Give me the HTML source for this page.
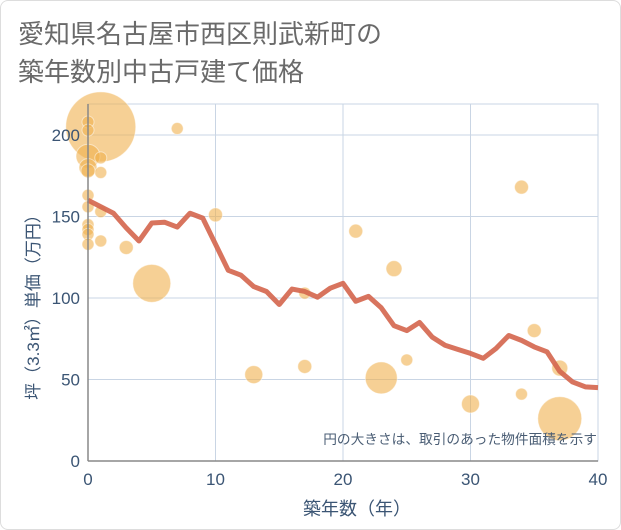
<!DOCTYPE html>
<html><head><meta charset="utf-8">
<style>
html,body{margin:0;padding:0;background:#fff;}
#wrap{position:relative;width:619px;height:528px;border:1px solid #ddd;border-radius:8px;overflow:hidden;background:#fff;}
svg{position:absolute;left:0;top:0;font-family:"Liberation Sans","Noto Sans CJK JP",sans-serif;}
</style></head>
<body>
<div id="wrap">
<svg id="chart" width="621" height="530">
<text x="17" y="42" font-size="26" fill="#6a6a6a">愛知県名古屋市西区則武新町の</text>
<text x="17" y="80" font-size="26" fill="#6a6a6a">築年数別中古戸建て価格</text>
<g id="grid"></g>
<g id="bubbles"></g>
<g id="line"></g>
<g id="axes"></g>
<text x="596" y="443" font-size="13.7" fill="#4a5d74" text-anchor="end">円の大きさは、取引のあった物件面積を示す</text>
<text x="356" y="514" font-size="18" fill="#3b5574" text-anchor="middle">築年数（年）</text>
<text transform="translate(38,302) rotate(-90)" font-size="17" fill="#3b5574" text-anchor="middle">坪（3.3㎡）単価（万円）</text>
</svg>
</div>
<script>
const xTicks=[0,10,20,30,40];
const yTicks=[0,50,100,150,200];
const lineYears=[0,1,2,3,4,5,6,7,8,9,10,11,12,13,14,15,16,17,18,19,20,21,22,23,24,25,26,27,28,29,30,31,32,33,34,35,36,37,38,39,40];
const linePrices=[160,156,152,143,135,146,146.5,143.5,152,149,133,117,114,107,104,96,105.5,104,100.5,106,109,98,101,94,83,80,85,76,71,68.5,66,63,69,77,74,70,67,55,48.5,45.5,45];
const bubbleYears=[1,0,0,0,0,1,1,0,0,0,1,0,0,0,0,1,3,5,7,10,13,17,17,21,23,24,25,30,34,34,35,37,37];
const bubblePrices=[205,208,203,187,180,186,177,178,163,156,153,145,142,139,133,135,131,109,204,151,53,58,103,141,51,118,62,35,168,41,80,57,26];
const bubbleSizes=[35,6,6,12,9,6,6,7,6,6,6,6,6,6,6,6,7,19,6,7,9,7,6,7,16,8,6,9,7,6,7,8,22];
const NS="http://www.w3.org/2000/svg";
const L=87,R=597,T=103,B=460;
const sx=v=>L+(v-0)/(40-0)*(R-L);
const sy=v=>B-(v/200)*(B-134);
function mk(tag,attrs,parent){const e=document.createElementNS(NS,tag);for(const k in attrs)e.setAttribute(k,attrs[k]);parent.appendChild(e);return e;}
const grid=document.getElementById('grid'),axes=document.getElementById('axes');
xTicks.forEach(t=>{
 const l=mk('line',{x1:sx(t),x2:sx(t),y1:T,y2:B,stroke:'#c9d5e4','stroke-width':1},grid);
 
 
 const tx=mk('text',{x:sx(t),y:B+24,'font-size':17,fill:'#3b5574','text-anchor':'middle'},axes);
 tx.textContent=t;
 
 
});
yTicks.forEach(t=>{
 const l=mk('line',{x1:L,x2:R,y1:sy(t),y2:sy(t),stroke:'#c9d5e4','stroke-width':1},grid);
 
 
 const tx=mk('text',{x:L-8,y:sy(t)+6,'font-size':17,fill:'#3b5574','text-anchor':'end'},axes);
 tx.textContent=t;
 
 
});
const fr=mk('rect',{x:L,y:T,width:R-L,height:B-T,fill:'none',stroke:'#c9d5e4'},grid);


const ax=mk('line',{x1:L,x2:L,y1:T,y2:B,stroke:'#888','stroke-width':1.5},axes);


const ax2=mk('line',{x1:L,x2:R,y1:B,y2:B,stroke:'#888','stroke-width':1.5},axes);


const bg=document.getElementById('bubbles');
bubbleYears.forEach((y,i)=>{
 const c=mk('circle',{cx:sx(y),cy:sy(bubblePrices[i]),r:bubbleSizes[i],fill:'#f0b04e','fill-opacity':0.6,stroke:'#fff','stroke-opacity':0.5,'stroke-width':1},bg);
 
 
});
const pts=lineYears.map((y,i)=>sx(y)+','+sy(linePrices[i])).join(' ');
const pl=mk('polyline',{points:pts,fill:'none',stroke:'#d4654d','stroke-opacity':0.9,'stroke-width':5,'stroke-linejoin':'round'},document.getElementById('line'));


</script>
</body></html>
